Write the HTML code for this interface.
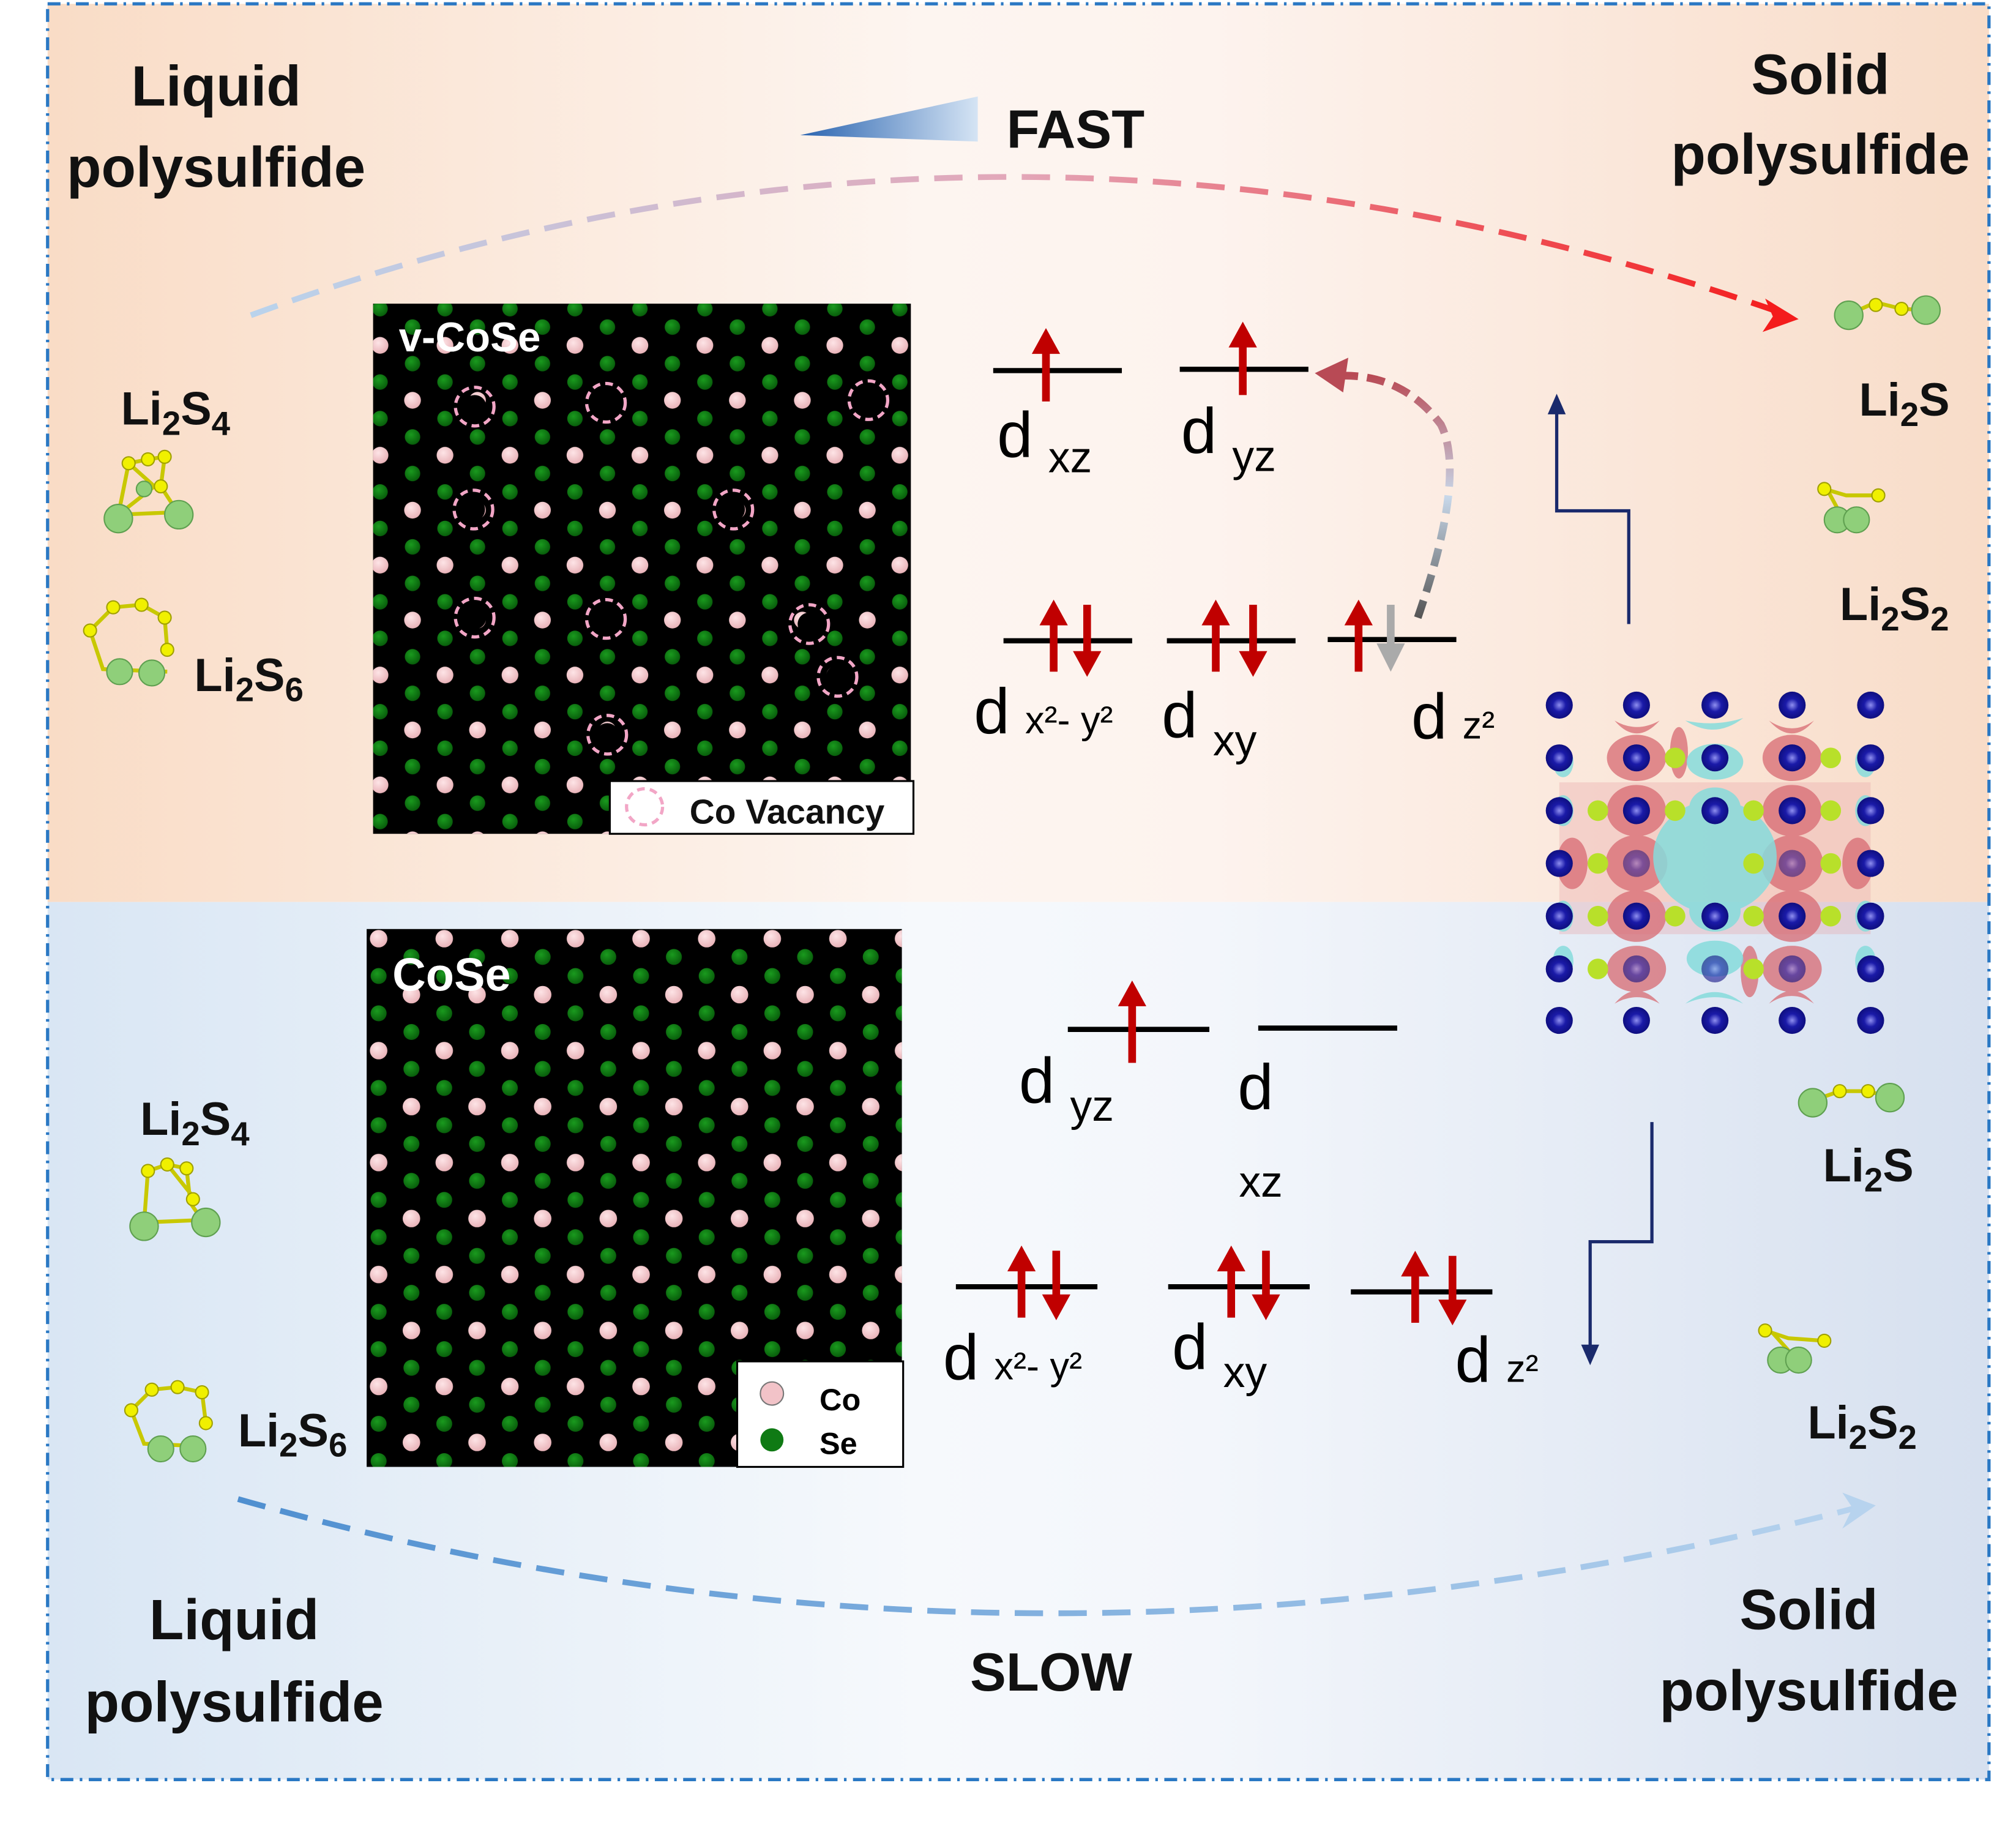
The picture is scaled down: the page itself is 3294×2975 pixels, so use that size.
<!DOCTYPE html>
<html><head><meta charset="utf-8">
<style>html,body{margin:0;padding:0;background:#fff}svg{display:block}</style></head>
<body>
<svg width="3294" height="2975" viewBox="0 0 1567 1415.2" preserveAspectRatio="none" xmlns="http://www.w3.org/2000/svg" font-family="Liberation Sans, sans-serif">
<defs>
<linearGradient id="topbg" x1="0" x2="1" y1="0" y2="0">
<stop offset="0" stop-color="#f9dcc6"/><stop offset="0.45" stop-color="#fdf5f0"/><stop offset="0.6" stop-color="#fdf3ee"/><stop offset="1" stop-color="#f8dcc8"/></linearGradient>
<linearGradient id="botbg" x1="0" x2="1" y1="0" y2="0">
<stop offset="0" stop-color="#d9e6f4"/><stop offset="0.45" stop-color="#f6f9fc"/><stop offset="0.6" stop-color="#f3f6fb"/><stop offset="1" stop-color="#d6e0ef"/></linearGradient>
<linearGradient id="topar" x1="0" x2="1"><stop offset="0" stop-color="#b9d3ec"/><stop offset="0.5" stop-color="#e3a6b8"/><stop offset="1" stop-color="#f41c1c"/></linearGradient>
<linearGradient id="botar" x1="0" x2="1"><stop offset="0" stop-color="#4f8fd0"/><stop offset="1" stop-color="#b7d3ee"/></linearGradient>
<linearGradient id="fast" x1="0" x2="1"><stop offset="0" stop-color="#2a64b0"/><stop offset="1" stop-color="#d5e4f4"/></linearGradient>
<linearGradient id="curv" x1="0" y1="1" x2="0" y2="0"><stop offset="0" stop-color="#555"/><stop offset="0.5" stop-color="#c8d8ea"/><stop offset="1" stop-color="#b84a55"/></linearGradient>
<radialGradient id="pk" cx="0.4" cy="0.35" r="0.7"><stop offset="0" stop-color="#fde4e6"/><stop offset="1" stop-color="#e8b0b6"/></radialGradient>
<radialGradient id="gr" cx="0.4" cy="0.35" r="0.7"><stop offset="0" stop-color="#1a9a1e"/><stop offset="1" stop-color="#075a0a"/></radialGradient>
<radialGradient id="bl" cx="0.5" cy="0.5" r="0.6"><stop offset="0" stop-color="#8f8ff0"/><stop offset="0.4" stop-color="#1a1aa8"/><stop offset="1" stop-color="#0a0a70"/></radialGradient>
<pattern id="lat" x="295.4" y="268.4" width="50.5" height="85.4" patternUnits="userSpaceOnUse">
<circle cx="0" cy="0" r="6.5" fill="url(#pk)"/><circle cx="50.5" cy="0" r="6.5" fill="url(#pk)"/><circle cx="0" cy="85.4" r="6.5" fill="url(#pk)"/><circle cx="50.5" cy="85.4" r="6.5" fill="url(#pk)"/>
<circle cx="25.25" cy="42.7" r="6.5" fill="url(#pk)"/>
<circle cx="25.25" cy="14.2" r="6" fill="url(#gr)"/>
<circle cx="0" cy="28.5" r="6" fill="url(#gr)"/><circle cx="50.5" cy="28.5" r="6" fill="url(#gr)"/>
<circle cx="0" cy="56.9" r="6" fill="url(#gr)"/><circle cx="50.5" cy="56.9" r="6" fill="url(#gr)"/>
<circle cx="25.25" cy="71.2" r="6" fill="url(#gr)"/>
</pattern>
<pattern id="lat2" x="294.3" y="729.5" width="51" height="87" patternUnits="userSpaceOnUse">
<circle cx="0" cy="0" r="6.8" fill="url(#pk)"/><circle cx="51" cy="0" r="6.8" fill="url(#pk)"/><circle cx="0" cy="87" r="6.8" fill="url(#pk)"/><circle cx="51" cy="87" r="6.8" fill="url(#pk)"/>
<circle cx="25.5" cy="43.5" r="6.8" fill="url(#pk)"/>
<circle cx="25.5" cy="14.2" r="6.2" fill="url(#gr)"/>
<circle cx="0" cy="29" r="6.2" fill="url(#gr)"/><circle cx="51" cy="29" r="6.2" fill="url(#gr)"/>
<circle cx="0" cy="58" r="6.2" fill="url(#gr)"/><circle cx="51" cy="58" r="6.2" fill="url(#gr)"/>
<circle cx="25.5" cy="72.5" r="6.2" fill="url(#gr)"/>
</pattern>
</defs>
<rect x="37" y="3" width="1509" height="698" fill="url(#topbg)"/>
<rect x="37" y="701" width="1509" height="682" fill="url(#botbg)"/>
<rect x="37" y="3" width="1509" height="1380" fill="none" stroke="#2a78c4" stroke-width="2.5" stroke-dasharray="10,5,2,5"/>

<g font-weight="bold" font-size="44" text-anchor="middle" fill="#111">
<text x="168" y="82">Liquid</text><text x="168" y="145">polysulfide</text>
<text x="1415" y="73">Solid</text><text x="1415" y="135">polysulfide</text>
<text x="182" y="1274">Liquid</text><text x="182" y="1338">polysulfide</text>
<text x="1406" y="1266">Solid</text><text x="1406" y="1329">polysulfide</text>
<text x="836" y="115" font-size="42">FAST</text>
<text x="817" y="1314" font-size="42">SLOW</text>
</g>
<polygon points="622,105 760,75 760,110" fill="url(#fast)"/>
<path d="M195,245 Q780,30 1390,245" fill="none" stroke="url(#topar)" stroke-width="4.5" stroke-dasharray="22,12"/>
<polygon points="1372,232 1398,248 1370,258 1378,246" fill="#f41c1c"/>
<path d="M185,1165 Q800,1340 1450,1170" fill="none" stroke="url(#botar)" stroke-width="4.5" stroke-dasharray="22,12"/>
<polygon points="1432,1160 1458,1170 1432,1188 1440,1172" fill="#b7d3ee"/>

<g font-weight="bold" font-size="36" fill="#111">
<text x="94" y="330">Li<tspan font-size="26" dy="8">2</tspan><tspan dy="-8">S</tspan><tspan font-size="26" dy="8">4</tspan></text>
<text x="151" y="537">Li<tspan font-size="26" dy="8">2</tspan><tspan dy="-8">S</tspan><tspan font-size="26" dy="8">6</tspan></text>
<text x="1445" y="323">Li<tspan font-size="26" dy="8">2</tspan><tspan dy="-8">S</tspan></text>
<text x="1430" y="482">Li<tspan font-size="26" dy="8">2</tspan><tspan dy="-8">S</tspan><tspan font-size="26" dy="8">2</tspan></text>
<text x="109" y="882">Li<tspan font-size="26" dy="8">2</tspan><tspan dy="-8">S</tspan><tspan font-size="26" dy="8">4</tspan></text>
<text x="185" y="1124">Li<tspan font-size="26" dy="8">2</tspan><tspan dy="-8">S</tspan><tspan font-size="26" dy="8">6</tspan></text>
<text x="1417" y="918">Li<tspan font-size="26" dy="8">2</tspan><tspan dy="-8">S</tspan></text>
<text x="1405" y="1118">Li<tspan font-size="26" dy="8">2</tspan><tspan dy="-8">S</tspan><tspan font-size="26" dy="8">2</tspan></text>
</g>

<g stroke="#c8c800" stroke-width="3" fill="none">
<path d="M100,360 L115,357 L128,355 L125,378 L120,378 L100,360 M100,360 L92,400 M125,378 L138,398 M120,378 L92,400 M92,400 L138,398"/>
<path d="M70,490 L88,472 L110,470 L128,480 L130,505 M70,490 L80,520 L130,522"/>
<path d="M1440,243 L1458,235 L1478,240 L1497,241"/>
<path d="M1418,380 L1435,385 L1460,385 M1420,380 L1432,402"/>
<path d="M115,910 L130,905 L145,908 L148,935 L155,945 M115,910 L112,950 L160,948 M130,905 L150,930"/>
<path d="M102,1096 L118,1080 L138,1078 L157,1082 L160,1106 M102,1096 L112,1122 L160,1124"/>
<path d="M1410,855 L1430,848 L1452,848 L1470,853"/>
<path d="M1372,1034 L1390,1040 L1418,1042 M1378,1036 L1395,1055"/>
</g>
<g fill="#8fcf7a" stroke="#5fa050" stroke-width="1">
<circle cx="92" cy="403" r="11"/><circle cx="139" cy="400" r="11"/><circle cx="112" cy="380" r="6"/>
<circle cx="93" cy="522" r="10"/><circle cx="118" cy="523" r="10"/>
<circle cx="1437" cy="245" r="11"/><circle cx="1497" cy="241" r="11"/>
<circle cx="1428" cy="404" r="10"/><circle cx="1443" cy="404" r="10"/>
<circle cx="112" cy="953" r="11"/><circle cx="160" cy="950" r="11"/>
<circle cx="125" cy="1126" r="10"/><circle cx="150" cy="1126" r="10"/>
<circle cx="1409" cy="857" r="11"/><circle cx="1469" cy="853" r="11"/>
<circle cx="1384" cy="1057" r="10"/><circle cx="1398" cy="1057" r="10"/>
</g>
<g fill="#f0f000" stroke="#a0a000" stroke-width="1">
<circle cx="100" cy="360" r="5"/><circle cx="115" cy="357" r="5"/><circle cx="128" cy="355" r="5"/><circle cx="125" cy="378" r="5"/>
<circle cx="70" cy="490" r="5"/><circle cx="88" cy="472" r="5"/><circle cx="110" cy="470" r="5"/><circle cx="128" cy="480" r="5"/><circle cx="130" cy="505" r="5"/>
<circle cx="1458" cy="237" r="5"/><circle cx="1478" cy="240" r="5"/>
<circle cx="1418" cy="380" r="5"/><circle cx="1460" cy="385" r="5"/>
<circle cx="115" cy="910" r="5"/><circle cx="130" cy="905" r="5"/><circle cx="145" cy="908" r="5"/><circle cx="150" cy="932" r="5"/>
<circle cx="102" cy="1096" r="5"/><circle cx="118" cy="1080" r="5"/><circle cx="138" cy="1078" r="5"/><circle cx="157" cy="1082" r="5"/><circle cx="160" cy="1106" r="5"/>
<circle cx="1430" cy="848" r="5"/><circle cx="1452" cy="848" r="5"/>
<circle cx="1372" cy="1034" r="5"/><circle cx="1418" cy="1042" r="5"/>
</g>

<rect x="290" y="236" width="418" height="412" fill="#000"/>
<rect x="290" y="236" width="418" height="412" fill="url(#lat)"/>
<g fill="#000">
<circle cx="369" cy="316" r="9"/><circle cx="471" cy="313" r="9"/><circle cx="675" cy="311" r="9"/>
<circle cx="368" cy="396" r="9"/><circle cx="570" cy="396" r="9"/>
<circle cx="369" cy="480" r="9"/><circle cx="471" cy="481" r="9"/><circle cx="629" cy="485" r="9"/>
<circle cx="651" cy="526" r="9"/><circle cx="472" cy="571" r="9"/>
</g>
<text x="310" y="273" font-size="32" font-weight="bold" fill="#fff">v-CoSe</text>
<g fill="none" stroke="#f2a6c6" stroke-width="2.5" stroke-dasharray="6,4">
<circle cx="369" cy="316" r="15"/><circle cx="471" cy="313" r="15"/><circle cx="675" cy="311" r="15"/>
<circle cx="368" cy="396" r="15"/><circle cx="570" cy="396" r="15"/>
<circle cx="369" cy="480" r="15"/><circle cx="471" cy="481" r="15"/><circle cx="629" cy="485" r="15"/>
<circle cx="651" cy="526" r="15"/><circle cx="472" cy="571" r="15"/>
</g>
<rect x="474" y="607" width="236" height="41" fill="#fff" stroke="#000" stroke-width="1.5"/>
<circle cx="501" cy="627" r="14" fill="none" stroke="#f2a6c6" stroke-width="2.5" stroke-dasharray="6,4"/>
<text x="536" y="640" font-size="27" font-weight="bold" fill="#111">Co Vacancy</text>

<rect x="285" y="722" width="416" height="418" fill="#000"/>
<rect x="285" y="722" width="416" height="418" fill="url(#lat2)"/>
<text x="305" y="770" font-size="36" font-weight="bold" fill="#fff">CoSe</text>
<rect x="573" y="1058" width="129" height="82" fill="#fff" stroke="#000" stroke-width="1.5"/>
<circle cx="600" cy="1083" r="9" fill="#f2c3c8" stroke="#777"/>
<circle cx="600" cy="1119" r="9" fill="#0f7a14"/>
<text x="637" y="1096" font-size="24" font-weight="bold">Co</text>
<text x="637" y="1130" font-size="24" font-weight="bold">Se</text>

<g stroke="#000" stroke-width="4">
<line x1="772" y1="288" x2="872" y2="288"/><line x1="917" y1="287" x2="1017" y2="287"/>
<line x1="780" y1="498" x2="880" y2="498"/><line x1="907" y1="498" x2="1007" y2="498"/><line x1="1032" y1="497" x2="1132" y2="497"/>
<line x1="830" y1="800" x2="940" y2="800"/><line x1="978" y1="799" x2="1086" y2="799"/>
<line x1="743" y1="1000" x2="853" y2="1000"/><line x1="908" y1="1000" x2="1018" y2="1000"/><line x1="1050" y1="1004" x2="1160" y2="1004"/>
</g>
<g stroke="#c00000" stroke-width="6" fill="#c00000">
<line x1="813" y1="312" x2="813" y2="270"/><polygon points="802,275 813,255 824,275" stroke="none"/>
<line x1="966" y1="307" x2="966" y2="265"/><polygon points="955,270 966,250 977,270" stroke="none"/>
</g>
<g fill="#c00000" stroke="none">
<rect x="816" y="484" width="6" height="38"/><polygon points="808,486 819,466 830,486"/>
<rect x="842" y="470" width="6" height="40"/><polygon points="834,506 845,526 856,506"/>
<rect x="942" y="484" width="6" height="38"/><polygon points="934,486 945,466 956,486"/>
<rect x="971" y="470" width="6" height="40"/><polygon points="963,506 974,526 985,506"/>
<rect x="1053" y="484" width="6" height="38"/><polygon points="1045,486 1056,466 1067,486"/>
<rect x="877" y="778" width="6" height="48"/><polygon points="869,782 880,762 891,782"/>
<rect x="791" y="986" width="6" height="38"/><polygon points="783,988 794,968 805,988"/>
<rect x="818" y="972" width="6" height="40"/><polygon points="810,1006 821,1026 832,1006"/>
<rect x="954" y="986" width="6" height="38"/><polygon points="946,988 957,968 968,988"/>
<rect x="981" y="972" width="6" height="40"/><polygon points="973,1006 984,1026 995,1006"/>
<rect x="1097" y="990" width="6" height="38"/><polygon points="1089,992 1100,972 1111,992"/>
<rect x="1126" y="976" width="6" height="40"/><polygon points="1118,1010 1129,1030 1140,1010"/>
</g>
<rect x="1078" y="470" width="6" height="32" fill="#aaa"/><polygon points="1070,500 1081,522 1092,500" fill="#aaa"/>
<path d="M1102,480 Q1140,370 1120,330 Q1090,290 1040,292" fill="none" stroke="url(#curv)" stroke-width="6" stroke-dasharray="14,7"/>
<polygon points="1022,290 1048,278 1044,305" fill="#b84a55"/>

<g font-size="50" fill="#000">
<text x="775" y="355">d<tspan font-size="34" dx="12" dy="12">xz</tspan></text>
<text x="918" y="352">d<tspan font-size="34" dx="12" dy="14">yz</tspan></text>
<text x="757" y="570">d<tspan font-size="30" dx="12" dy="0">x²- y²</tspan></text>
<text x="903" y="573">d<tspan font-size="34" dx="12" dy="14">xy</tspan></text>
<text x="1097" y="574">d<tspan font-size="30" dx="12" dy="0">z²</tspan></text>
<text x="792" y="857">d<tspan font-size="34" dx="12" dy="14">yz</tspan></text>
<text x="962" y="862">d</text>
<text x="963" y="930" font-size="34">xz</text>
<text x="733" y="1072">d<tspan font-size="30" dx="12" dy="0">x²- y²</tspan></text>
<text x="911" y="1064">d<tspan font-size="34" dx="12" dy="14">xy</tspan></text>
<text x="1131" y="1074">d<tspan font-size="30" dx="12" dy="0">z²</tspan></text>
</g>

<path d="M1266,485 L1266,397 L1210,397 L1210,312" fill="none" stroke="#1a2a6c" stroke-width="2.5"/>
<polygon points="1203,322 1210,306 1217,322" fill="#1a2a6c"/>
<path d="M1284,872 L1284,965 L1236,965 L1236,1055" fill="none" stroke="#1a2a6c" stroke-width="2.5"/>
<polygon points="1229,1045 1236,1061 1243,1045" fill="#1a2a6c"/>

<g>
<rect x="1212" y="608" width="242" height="118" fill="#e9a6aa" opacity="0.35"/>
<g fill="#d86a72" opacity="0.75">
<ellipse cx="1272" cy="589" rx="23" ry="18"/><ellipse cx="1393" cy="589" rx="23" ry="18"/>
<ellipse cx="1272" cy="630" rx="23" ry="20"/><ellipse cx="1393" cy="630" rx="23" ry="20"/>
<ellipse cx="1272" cy="671" rx="24" ry="22"/><ellipse cx="1393" cy="671" rx="24" ry="22"/>
<ellipse cx="1272" cy="712" rx="23" ry="20"/><ellipse cx="1393" cy="712" rx="23" ry="20"/>
<ellipse cx="1272" cy="753" rx="23" ry="18"/><ellipse cx="1393" cy="753" rx="23" ry="18"/>
<ellipse cx="1222" cy="671" rx="12" ry="20"/><ellipse cx="1444" cy="671" rx="12" ry="20"/>
<ellipse cx="1305" cy="585" rx="7" ry="20"/><ellipse cx="1360" cy="755" rx="7" ry="20"/>
<path d="M1255,560 Q1272,580 1290,560 Q1272,570 1255,560Z"/><path d="M1375,560 Q1393,580 1410,560 Q1393,572 1375,560Z"/>
<path d="M1255,780 Q1272,760 1290,780 Q1272,770 1255,780Z"/><path d="M1375,780 Q1393,760 1410,780 Q1393,768 1375,780Z"/>
</g>
<g fill="#86dcdc" opacity="0.85">
<ellipse cx="1333" cy="666" rx="48" ry="44"/>
<ellipse cx="1333" cy="592" rx="22" ry="14"/><ellipse cx="1333" cy="745" rx="22" ry="14"/>
<ellipse cx="1333" cy="628" rx="20" ry="16"/><ellipse cx="1333" cy="708" rx="20" ry="16"/>
<ellipse cx="1215" cy="592" rx="8" ry="12"/><ellipse cx="1450" cy="592" rx="8" ry="12"/>
<ellipse cx="1215" cy="712" rx="8" ry="12"/><ellipse cx="1450" cy="712" rx="8" ry="12"/>
<ellipse cx="1215" cy="630" rx="8" ry="12"/><ellipse cx="1450" cy="630" rx="8" ry="12"/>
<ellipse cx="1215" cy="747" rx="8" ry="12"/><ellipse cx="1450" cy="747" rx="8" ry="12"/>
<path d="M1310,560 Q1333,575 1355,558 Q1333,565 1310,560Z"/><path d="M1310,780 Q1333,762 1355,780 Q1333,770 1310,780Z"/>
</g>
<g fill="url(#bl)">
<circle cx="1212" cy="548" r="10.5"/><circle cx="1272" cy="548" r="10.5"/><circle cx="1333" cy="548" r="10.5"/><circle cx="1393" cy="548" r="10.5"/><circle cx="1454" cy="548" r="10.5"/>
<circle cx="1212" cy="589" r="10.5"/><circle cx="1272" cy="589" r="10.5"/><circle cx="1333" cy="589" r="10.5"/><circle cx="1393" cy="589" r="10.5"/><circle cx="1454" cy="589" r="10.5"/>
<circle cx="1212" cy="630" r="10.5"/><circle cx="1272" cy="630" r="10.5"/><circle cx="1333" cy="630" r="10.5"/><circle cx="1393" cy="630" r="10.5"/><circle cx="1454" cy="630" r="10.5"/>
<circle cx="1212" cy="671" r="10.5"/><circle cx="1272" cy="671" r="10.5" opacity="0.5"/><circle cx="1393" cy="671" r="10.5" opacity="0.5"/><circle cx="1454" cy="671" r="10.5"/>
<circle cx="1212" cy="712" r="10.5"/><circle cx="1272" cy="712" r="10.5"/><circle cx="1333" cy="712" r="10.5"/><circle cx="1393" cy="712" r="10.5"/><circle cx="1454" cy="712" r="10.5"/>
<circle cx="1212" cy="753" r="10.5"/><circle cx="1272" cy="753" r="10.5" opacity="0.6"/><circle cx="1333" cy="753" r="10.5" opacity="0.6"/><circle cx="1393" cy="753" r="10.5" opacity="0.6"/><circle cx="1454" cy="753" r="10.5"/>
<circle cx="1212" cy="793" r="10.5"/><circle cx="1272" cy="793" r="10.5"/><circle cx="1333" cy="793" r="10.5"/><circle cx="1393" cy="793" r="10.5"/><circle cx="1454" cy="793" r="10.5"/>
</g>
<g fill="#b8e02a">
<circle cx="1302" cy="589" r="8"/><circle cx="1423" cy="589" r="8"/>
<circle cx="1242" cy="630" r="8"/><circle cx="1302" cy="630" r="8"/><circle cx="1363" cy="630" r="8"/><circle cx="1423" cy="630" r="8"/>
<circle cx="1242" cy="671" r="8"/><circle cx="1363" cy="671" r="8"/><circle cx="1423" cy="671" r="8"/>
<circle cx="1242" cy="712" r="8"/><circle cx="1302" cy="712" r="8"/><circle cx="1363" cy="712" r="8"/><circle cx="1423" cy="712" r="8"/>
<circle cx="1242" cy="753" r="8"/><circle cx="1363" cy="753" r="8"/>
</g>
</g>
</svg>
</body></html>
